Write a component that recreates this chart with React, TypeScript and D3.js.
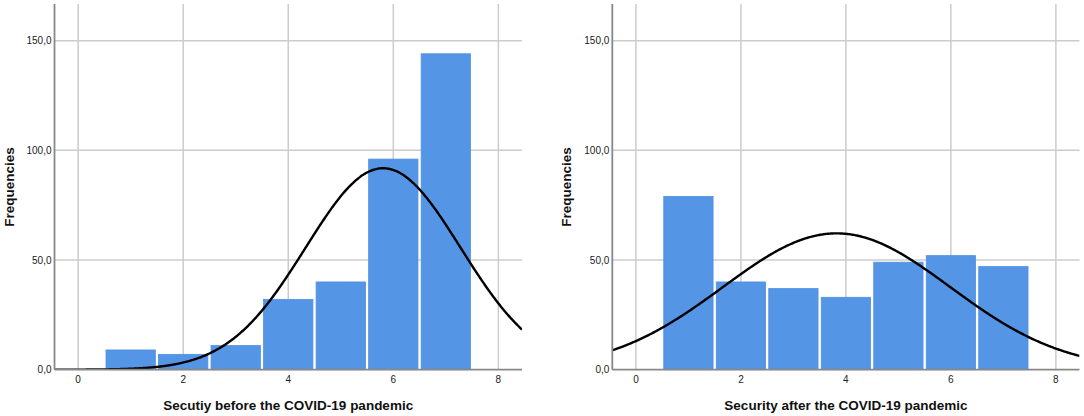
import React from 'react';
import * as d3 from 'd3';

// Histogram bins (score values 1..7) and their counts
const categories = [1, 2, 3, 4, 5, 6, 7];
const beforeCounts = [9, 7, 11, 32, 40, 96, 144];
const afterCounts = [79, 40, 37, 33, 49, 52, 47];

const xTicks = [0, 2, 4, 6, 8];
const yTicks = [0, 50, 100, 150];
const yTickLabels = ['0,0', '50,0', '100,0', '150,0'];

const beforeTitle = 'Secutiy before the COVID-19 pandemic';
const afterTitle = 'Security after the COVID-19 pandemic';

const width = 1084;
const height = 416;
const font = '"Liberation Sans", Arial, sans-serif';

interface PanelProps {
  counts: number[];
  title: string;
  left: number;
  right: number;
  id: string;
}

const Panel: React.FC<PanelProps> = ({ counts, title, left, right, id }) => {
  const top = 4;
  const bottom = 369.7;

  const x = d3.scaleLinear().domain([-0.45, 8.45]).range([left, right]);
  const y = d3.scaleLinear().domain([0, 166.7]).range([bottom, top]);

  // normal curve fitted to the histogram (mean / sd of the binned values)
  const n = d3.sum(counts);
  const mean = d3.sum(counts, (c, i) => c * categories[i]) / n;
  const sd = Math.sqrt(d3.sum(counts, (c, i) => c * (categories[i] - mean) ** 2) / n);
  const curveX = d3.range(-0.45, 8.46, 0.02);
  const normal = (v: number) =>
    (n / (sd * Math.sqrt(2 * Math.PI))) * Math.exp(-((v - mean) ** 2) / (2 * sd * sd));

  const line = d3.line<number>()
    .x(d => x(d))
    .y(d => y(normal(d)))
    .curve(d3.curveBasis);

  return (
    <g>
      <defs>
        <clipPath id={id}>
          <rect x={left} y={top} width={right - left} height={bottom - top} />
        </clipPath>
      </defs>

      {/* grid */}
      {xTicks.map(t => (
        <line key={'gx' + t} x1={x(t)} x2={x(t)} y1={top} y2={bottom}
          stroke="#cccccc" strokeWidth={1.5} />
      ))}
      {yTicks.filter(t => t > 0).map(t => (
        <line key={'gy' + t} x1={left} x2={right} y1={y(t)} y2={y(t)}
          stroke="#cccccc" strokeWidth={1.5} />
      ))}

      {/* bars */}
      {categories.map((c, i) => (
        <rect key={'b' + c}
          x={x(c - 0.5) + 1.6}
          y={y(counts[i])}
          width={x(c + 0.5) - x(c - 0.5) - 3.2}
          height={bottom - y(counts[i])}
          fill="#5595e5" stroke="#4f90e3" strokeWidth={0.8} />
      ))}

      {/* normal curve */}
      <path d={line(curveX) ?? ''} fill="none" stroke="#000" strokeWidth={2.4}
        clipPath={`url(#${id})`} />

      {/* axes */}
      <line x1={left} x2={left} y1={top} y2={bottom} stroke="#888" strokeWidth={1.8} />
      <line x1={left} x2={right} y1={bottom} y2={bottom} stroke="#888" strokeWidth={1.8} />

      {xTicks.map(t => (
        <text key={'tx' + t} x={x(t)} y={383} textAnchor="middle"
          fontSize={10} fontFamily={font} fill="#222">{t}</text>
      ))}
      {yTicks.map((t, i) => (
        <text key={'ty' + t} x={left - 3} y={y(t)} dy="0.35em" textAnchor="end"
          fontSize={10} fontFamily={font} fill="#222">{yTickLabels[i]}</text>
      ))}

      <text x={(left + right) / 2} y={410} textAnchor="middle" fontSize={13.5}
        fontWeight="bold" fontFamily={font} fill="#111">{title}</text>
      <text transform={`translate(${left - 41},${187}) rotate(-90)`} textAnchor="middle"
        fontSize={13.5} fontWeight="bold" fontFamily={font} fill="#111">Frequencies</text>
    </g>
  );
};

const App: React.FC = () => {
  return (
    <svg width={width} height={height} viewBox={`0 0 ${width} ${height}`}
      style={{ position: 'absolute', left: 0, top: 0, background: '#fff' }}>
      <rect width={width} height={height} fill="#fff" />
      <Panel counts={beforeCounts} title={beforeTitle} left={54.5} right={522} id="clipBefore" />
      <Panel counts={afterCounts} title={afterTitle} left={612.3} right={1079.5} id="clipAfter" />
    </svg>
  );
};

export default App;
